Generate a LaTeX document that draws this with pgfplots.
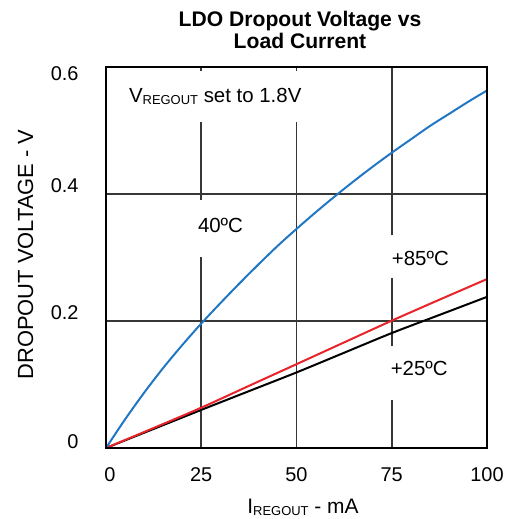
\documentclass[border=0pt]{standalone}
\usepackage{fontspec}
\setmainfont{Liberation Sans}
\usepackage{pgfplots}
\pgfplotsset{compat=1.18}
\definecolor{cblue}{RGB}{33,119,196}
\definecolor{cred}{RGB}{232,35,42}
\definecolor{cgrid}{RGB}{55,55,55}
\begin{document}
\begin{tikzpicture}
\path[use as bounding box] (0,0) rectangle (513bp,519bp);
\begin{axis}[
  at={(106bp,71bp)}, anchor=south west,
  scale only axis, width=381bp, height=381bp,
  xmin=0, xmax=100, ymin=0, ymax=0.6,
  axis line style={line width=2.2bp, black},
  xtick={0,25,50,75,100},
  xticklabels={\hspace{8bp}0,25,50,75,100},
  ytick={0,0.2,0.4,0.6},
  yticklabels={{\raisebox{-2bp}{0}\hspace{11bp}},0.2,0.4,\raisebox{-15bp}{0.6}},
  tick align=inside, major tick length=4bp,
  tick style={cgrid, line width=1.6bp},
  /pgf/number format/assume math mode=true,
  xticklabel style={anchor=base, yshift=-34bp, font=\fontsize{20}{24}\selectfont},
  yticklabel style={anchor=base east, xshift=-24bp, yshift=1bp, font=\fontsize{20}{24}\selectfont},
  clip=true,
]
% grid segments with gaps around the labels
\draw[cgrid, line width=1.6bp] (axis cs:0,0.2) -- (axis cs:100,0.2);
\draw[cgrid, line width=1.6bp] (axis cs:0,0.4) -- (axis cs:100,0.4);
\draw[cgrid, line width=1.6bp] (axis cs:25,0) -- (axis cs:25,0.301);
\draw[cgrid, line width=1.6bp] (axis cs:25,0.391) -- (axis cs:25,0.514);
\draw[cgrid, line width=1.6bp] (axis cs:50,0) -- (axis cs:50,0.514);
\draw[cgrid, line width=1.6bp] (axis cs:75,0) -- (axis cs:75,0.0756);
\draw[cgrid, line width=1.6bp] (axis cs:75,0.160) -- (axis cs:75,0.267);
\draw[cgrid, line width=1.6bp] (axis cs:75,0.335) -- (axis cs:75,0.6);
% data
\addplot[black, line width=2bp, smooth, no marks] coordinates {
 (0,0) (12.5,0.030) (25,0.060) (37.5,0.0895) (50,0.119) (62.5,0.150) (75,0.181) (87.5,0.2095) (100,0.238)};
\addplot[cred, line width=2bp, smooth, no marks] coordinates {
 (0,0) (12.5,0.0315) (25,0.0635) (37.5,0.0978) (50,0.132) (62.5,0.1663) (75,0.2005) (87.5,0.2335) (100,0.266)};
\addplot[cblue, line width=2bp, smooth, no marks] coordinates {
 (0,0) (5,0.045) (10,0.087) (15,0.126) (20,0.162) (25,0.196) (30,0.228) (35,0.259) (40,0.289) (45,0.318) (50,0.345) (55,0.371) (60,0.396) (65,0.420) (70,0.443) (75,0.465) (80,0.486) (85,0.507) (90,0.526) (95,0.545) (100,0.563)};
% annotations
\node[anchor=base west, inner sep=0pt, font=\fontsize{20.5}{24}\selectfont] at (axis cs:6,0.544) {V\raisebox{-2bp}{\fontsize{13}{13}\selectfont REGOUT} set to 1.8V};
\node[anchor=base west, inner sep=0pt, font=\fontsize{20.5}{24}\selectfont] at (axis cs:24.1,0.3386) {40ºC};
\node[anchor=base west, inner sep=0pt, font=\fontsize{20.5}{24}\selectfont] at (axis cs:75,0.287) {+85ºC};
\node[anchor=base west, inner sep=0pt, font=\fontsize{20.5}{24}\selectfont] at (axis cs:74.7,0.1134) {+25ºC};
\draw[black, line width=2.2bp] (rel axis cs:0,0) rectangle (rel axis cs:1,1);
\end{axis}
% title and axis labels
\node[anchor=base, inner sep=0pt, font=\bfseries\fontsize{21.2}{24}\selectfont] at (300bp,492bp) {LDO Dropout Voltage vs};
\node[anchor=base, inner sep=0pt, font=\bfseries\fontsize{21.2}{24}\selectfont] at (300bp,470bp) {Load Current};
\node[anchor=base, inner sep=0pt, font=\fontsize{21}{24}\selectfont] at (303bp,6bp) {I\raisebox{-2.5bp}{\fontsize{13}{13}\selectfont REGOUT} - mA};
\node[anchor=base, rotate=90, inner sep=0pt, font=\fontsize{22}{24}\selectfont] at (33bp,264.5bp) {DROPOUT VOLTAGE - V};
\end{tikzpicture}
\end{document}
